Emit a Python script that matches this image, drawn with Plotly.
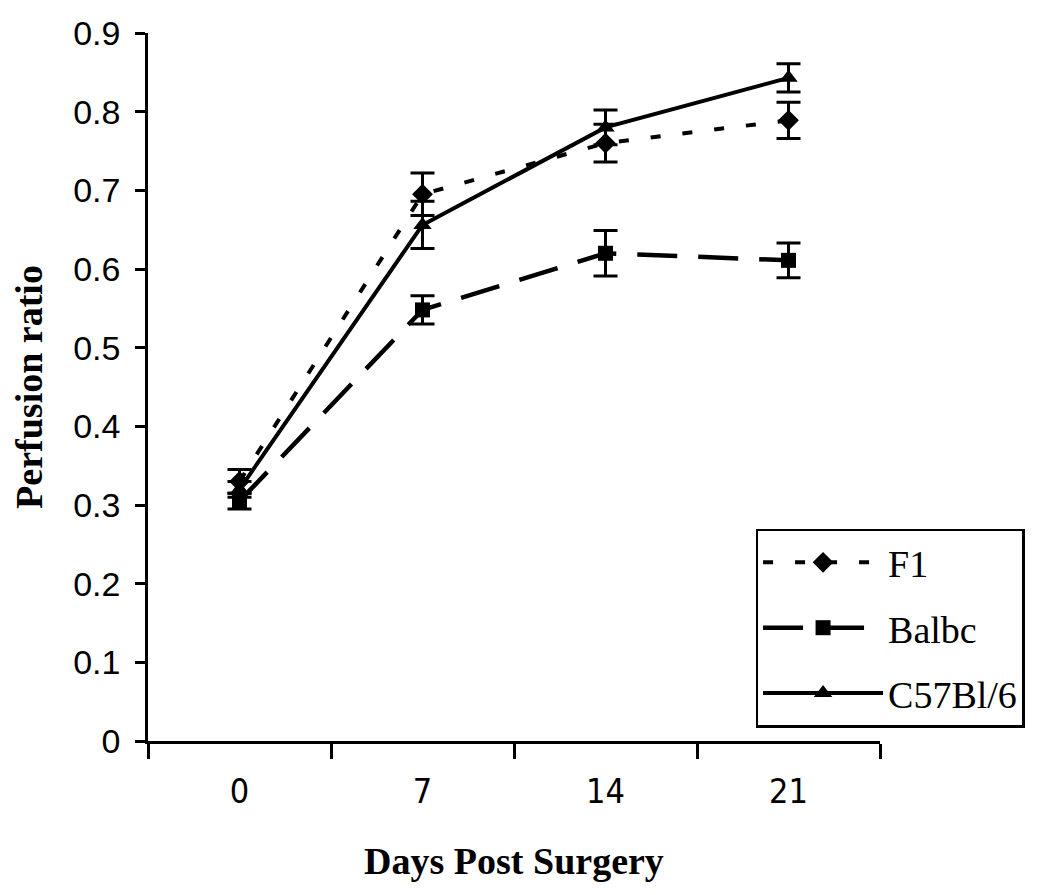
import plotly.graph_objects as go

days = ["0", "7", "14", "21"]
f1 = [0.33, 0.695, 0.76, 0.789]
f1_err = [0.015, 0.027, 0.024, 0.023]
balbc = [0.305, 0.548, 0.62, 0.611]
balbc_err = [0.01, 0.018, 0.029, 0.022]
c57 = [0.32, 0.656, 0.78, 0.843]
c57_err = [0.01, 0.03, 0.022, 0.018]
y_ticks = [0, 0.1, 0.2, 0.3, 0.4, 0.5, 0.6, 0.7, 0.8, 0.9]
y_tick_labels = ["0", "0.1", "0.2", "0.3", "0.4", "0.5", "0.6", "0.7", "0.8", "0.9"]

fig = go.Figure()

def add(name, y, err, dash, width, symbol, size):
    fig.add_trace(go.Scatter(
        x=days, y=y, name=name, legendgroup=name, mode="lines+markers",
        line=dict(color="black", width=width, dash=dash),
        marker=dict(color="black", symbol=symbol, size=size),
        error_y=dict(type="data", array=err, visible=True, color="black",
                     thickness=3, width=12),
    ))

add("F1", f1, f1_err, "10px,22px", 4, "diamond", 16)
add("Balbc", balbc, balbc_err, "40px,21px", 4.5, "square", 15)
add("C57Bl/6", c57, c57_err, "solid", 4, "triangle-up", 16)

serif = "Liberation Serif, Times New Roman, serif"

fig.update_layout(
    width=1050, height=895,
    paper_bgcolor="white", plot_bgcolor="white",
    margin=dict(l=140, r=178, t=25, b=162),
    font=dict(family="Liberation Sans, Arial", color="black"),
    showlegend=True,
    legend=dict(
        x=0.83, y=0.30, xanchor="left", yanchor="top",
        bordercolor="black", borderwidth=2.5, bgcolor="white",
        font=dict(family=serif, size=38, color="black"),
        tracegroupgap=13, itemwidth=120,
    ),
    xaxis=dict(
        type="category", range=[-0.5, 3.5], tickson="boundaries",
        showline=True, linecolor="black", linewidth=2.5,
        ticks="outside", ticklen=15, tickwidth=2.5, tickcolor="black",
        showgrid=False, zeroline=False, automargin=False,
        ticklabelstandoff=18,
        tickfont=dict(family="Liberation Sans Narrow, DejaVu Sans Condensed, Arial", size=34),
        title=dict(text="<b>Days Post Surgery</b>", standoff=38,
                   font=dict(family=serif, size=38)),
    ),
    yaxis=dict(
        range=[0, 0.9], tickvals=y_ticks, ticktext=y_tick_labels,
        showline=True, linecolor="black", linewidth=2.5,
        ticks="outside", ticklen=10, tickwidth=2.5, tickcolor="black",
        showgrid=False, zeroline=False, automargin=False,
        ticklabelstandoff=8,
        tickfont=dict(family="Liberation Sans, Arial", size=34),
        title=dict(text="<b>Perfusion ratio</b>", standoff=30,
                   font=dict(family=serif, size=38)),
    ),
)

fig.write_html("out.html")
